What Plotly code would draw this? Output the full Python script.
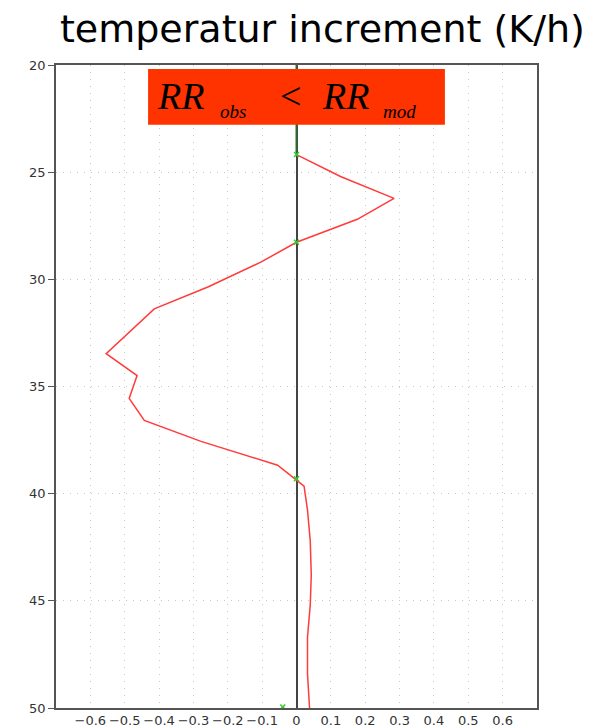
import plotly.graph_objects as go

# Red profile: temperature increment (K/h) vs level
red_x = [0.0, 0.128, 0.284, 0.177, 0.0, -0.104, -0.258, -0.414, -0.554, -0.464, -0.487,
         -0.443, -0.278, -0.055, 0.0, 0.022, 0.032, 0.040, 0.043, 0.040, 0.032, 0.032, 0.038]
red_y = [24.18, 25.2, 26.22, 27.2, 28.27, 29.2, 30.36, 31.38, 33.47, 34.49, 35.56,
         36.58, 37.56, 38.67, 39.37, 39.65, 40.76, 42.2, 43.8, 45.2, 46.7, 48.4, 50.0]

# Green reference profile segment and marks
green_line_x = [0.0, 0.0]
green_line_y = [20.0, 24.18]
green_mark_x = [0.0, 0.0, 0.0, -0.04]
green_mark_y = [24.18, 28.27, 39.3, 49.95]

x_ticks = [-0.6, -0.5, -0.4, -0.3, -0.2, -0.1, 0.0, 0.1, 0.2, 0.3, 0.4, 0.5, 0.6]
y_ticks = [20, 25, 30, 35, 40, 45, 50]

title_text = "temperatur increment (K/h)"

fig = go.Figure()
fig.add_trace(go.Scatter(x=green_line_x, y=green_line_y, mode="lines",
                         line=dict(color="#2e6b2e", width=2), hoverinfo="skip"))
fig.add_trace(go.Scatter(x=red_x, y=red_y, mode="lines",
                         line=dict(color="#ff3b3b", width=1.5), hoverinfo="skip"))
fig.add_trace(go.Scatter(x=green_mark_x, y=green_mark_y, mode="markers",
                         marker=dict(color="#33cc33", size=5, symbol="x-thin",
                                     line=dict(color="#33cc33", width=1.5)),
                         hoverinfo="skip"))

# red label box
fig.add_shape(type="rect", xref="x", yref="y", x0=-0.432, x1=0.432, y0=20.19, y1=22.79,
              fillcolor="#ff3300", line=dict(width=0), layer="above")

serif = "Liberation Serif"
ann = [
    ("RR", -0.412, 21.45, 38),
    ("obs", -0.228, 22.15, 19),
    ("<", -0.054, 21.45, 38),
    ("RR", 0.067, 21.45, 38),
    ("mod", 0.247, 22.15, 19),
]
for txt, ax, ay, sz in ann:
    t = "&lt;" if txt == "<" else "<i>%s</i>" % txt
    fig.add_annotation(x=ax, y=ay, xref="x", yref="y", text=t, showarrow=False,
                       xanchor="left", yanchor="middle",
                       font=dict(family=serif, size=sz, color="black"))

fig.update_layout(
    width=596, height=728,
    margin=dict(l=56, r=59, t=65, b=20, autoexpand=False),
    paper_bgcolor="white", plot_bgcolor="white",
    showlegend=False,
    title=dict(text=title_text, x=0.541, xanchor="center", y=0.96, yanchor="middle",
               font=dict(family="DejaVu Sans", size=38, color="black")),
)
fig.update_xaxes(range=[-0.7, 0.7], tickvals=x_ticks, ticks="", showline=True,
                 automargin=False, tickangle=0,
                 linecolor="#555", linewidth=1.5, mirror=True,
                 showgrid=True, gridcolor="#c8c8c8", gridwidth=1, griddash="1px,6px",
                 zeroline=True, zerolinecolor="#444", zerolinewidth=2,
                 tickfont=dict(family="DejaVu Sans", size=13, color="#333"))
fig.update_yaxes(range=[50, 20], tickvals=y_ticks, ticks="outside", ticklen=6,
                 automargin=False,
                 tickcolor="#555", showline=True, linecolor="#555", linewidth=1.5,
                 mirror=True, showgrid=True, gridcolor="#c8c8c8", gridwidth=1,
                 griddash="1px,6px", zeroline=False,
                 tickfont=dict(family="DejaVu Sans", size=13, color="#333"))

fig.write_html("out.html")
